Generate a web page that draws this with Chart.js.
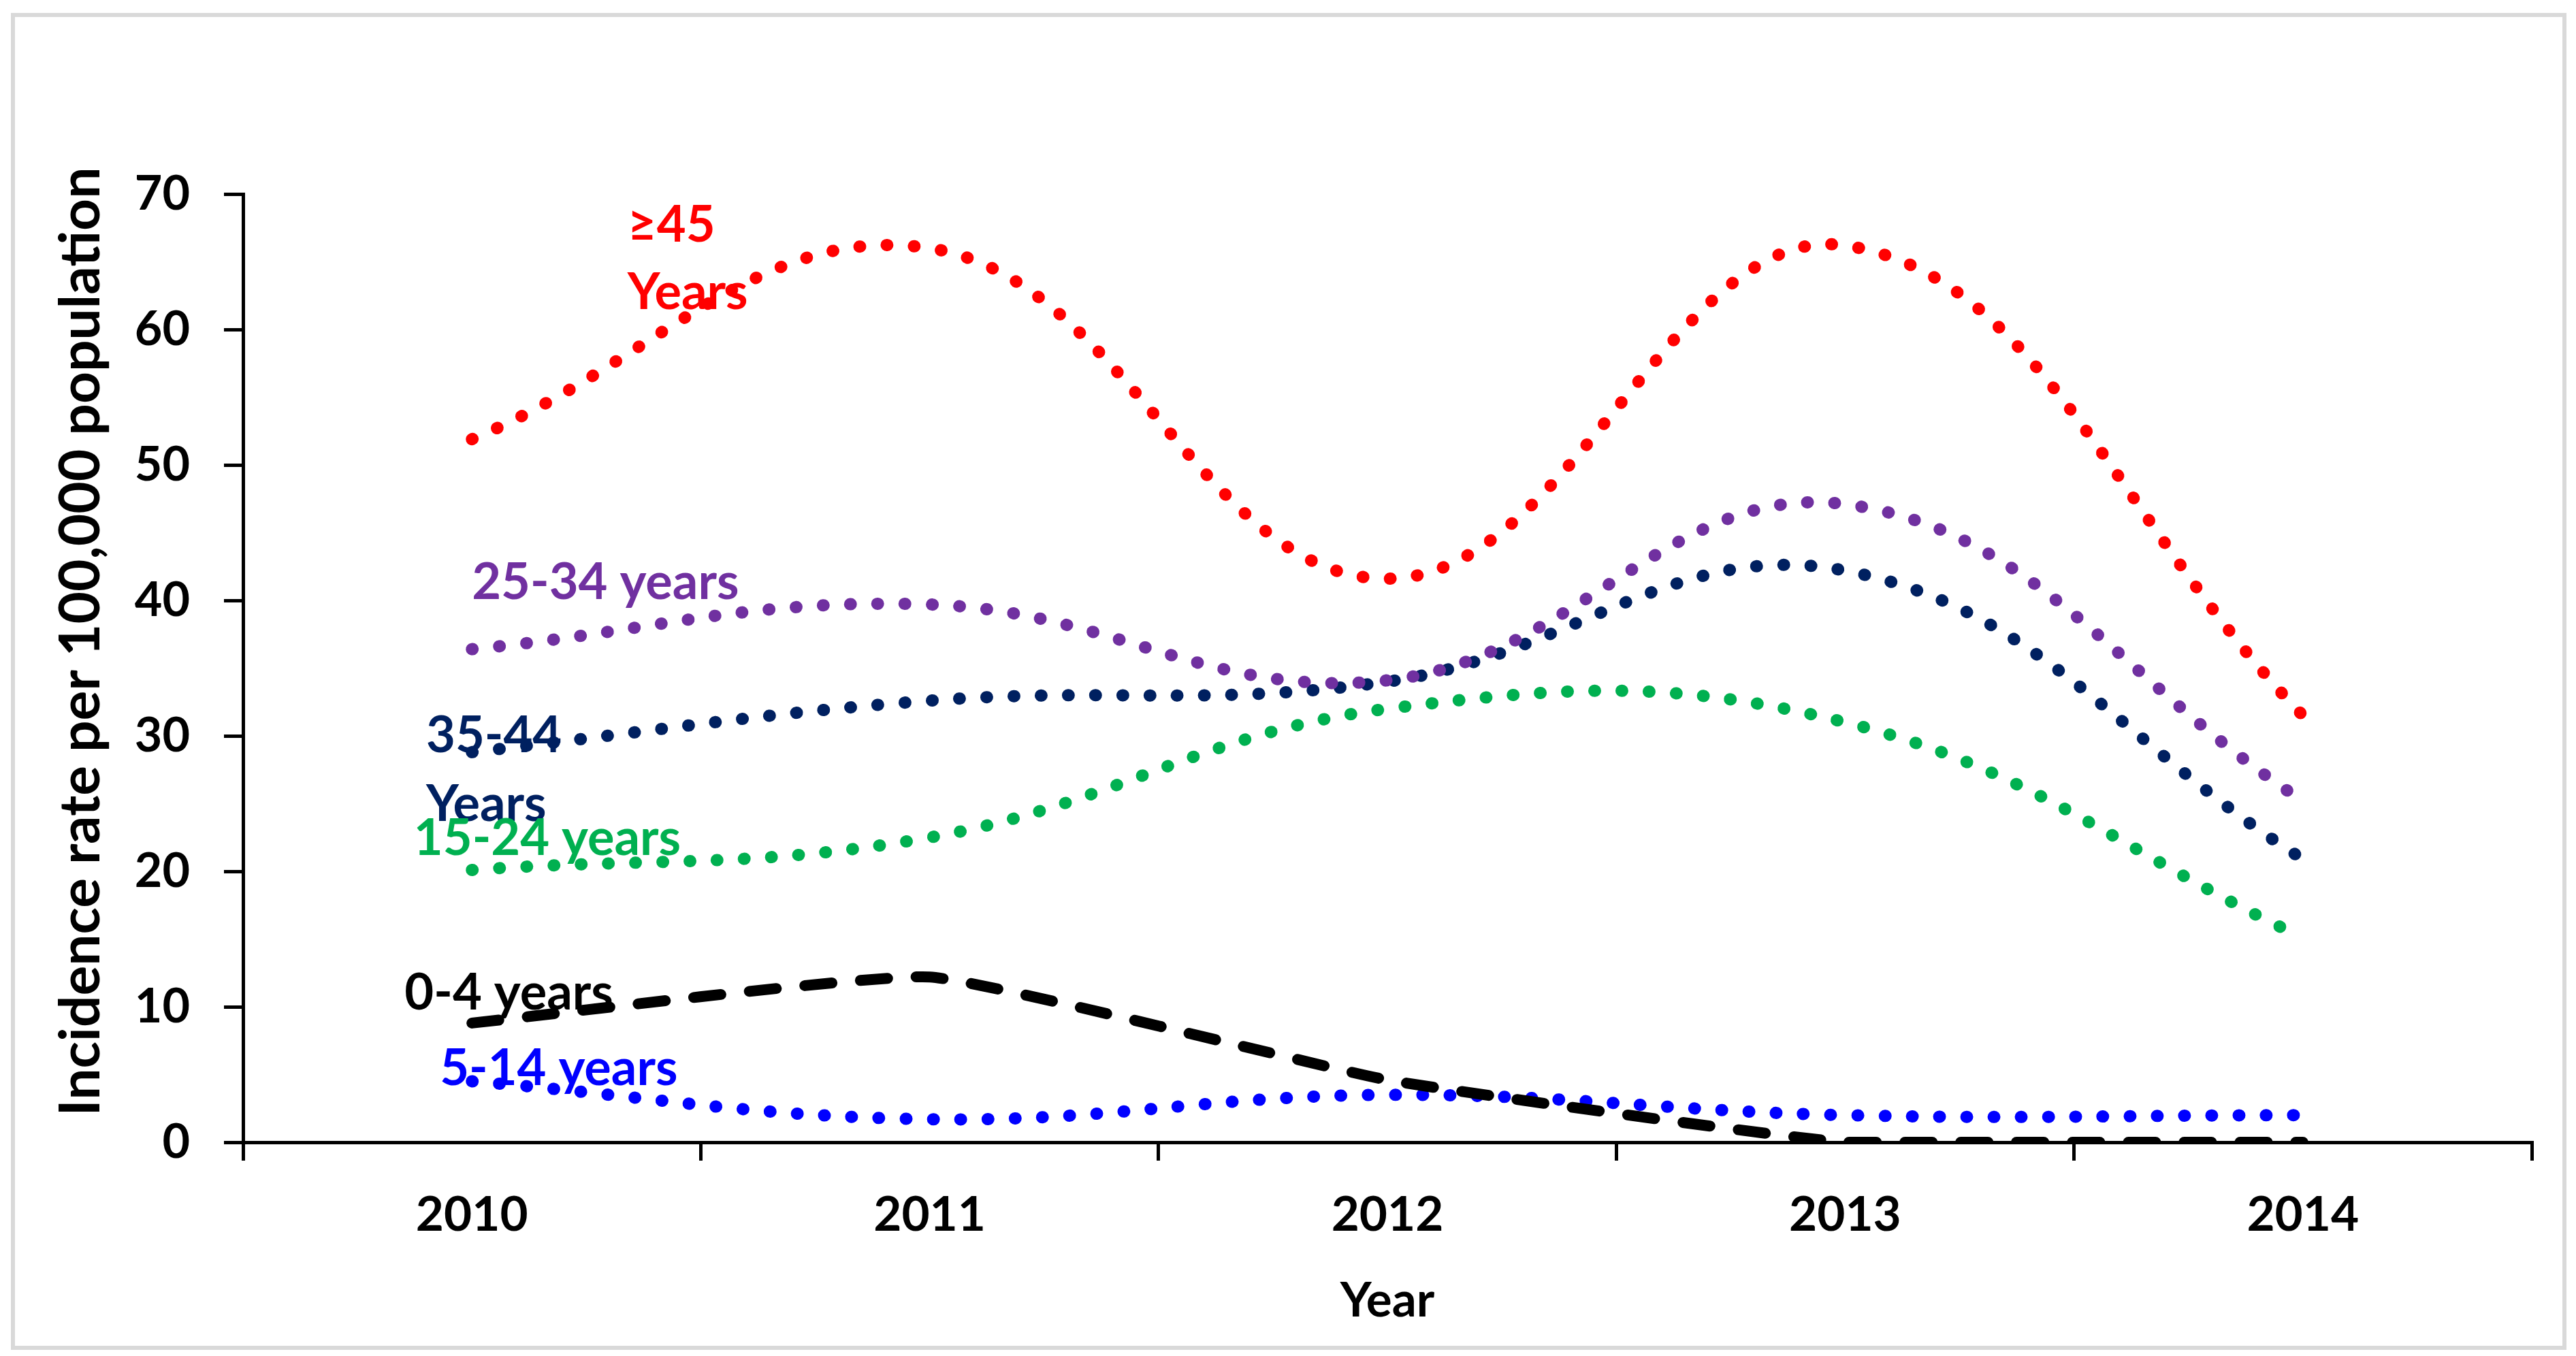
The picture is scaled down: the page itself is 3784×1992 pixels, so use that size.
<!DOCTYPE html>
<html lang="en">
<head>
<meta charset="UTF-8">
<title>Incidence rate by age group</title>
<script src="https://cdn.jsdelivr.net/npm/chart.js@4"></script>
<style>
  html, body { margin: 0; padding: 0; background: #fff; overflow: hidden; }
  canvas { display: block; }
</style>
</head>
<body>
<canvas id="chart" width="3784" height="1992"></canvas>
<script>
// values
const years = ['2010', '2011', '2012', '2013', '2014'];
const yTicks = [0, 10, 20, 30, 40, 50, 60, 70];
const age0to4 = [8.8, 12.2, 4.6, 0, 0];
const age5to14 = [4.5, 1.7, 3.5, 2.0, 2.0];
const age15to24 = [20.1, 22.5, 32.0, 31.0, 15.1];
const age25to34 = [36.4, 39.7, 34.1, 47.1, 25.2];
const age35to44 = [28.8, 32.6, 34.0, 42.2, 20.9];
const age45plus = [51.9, 66.0, 41.6, 66.2, 31.5];

const FONT = 'Lato, "Open Sans", sans-serif';
const Y_TITLE = 'Incidence rate per 100,000 population';

// in-chart series labels, placed in axis units (category index, value)
const seriesLabels = [
  { lines: ['\u226545', 'Years'], color: '#FF0000', x: 0.34, y: [67.7, 62.7] },
  { lines: ['25-34 years'], color: '#7030A0', x: 0.0, y: [41.3] },
  { lines: ['35-44', 'Years'], color: '#002060', x: -0.10, y: [30.0, 24.9] },
  { lines: ['15-24 years'], color: '#00B050', x: -0.127, y: [22.4] },
  { lines: ['0-4 years'], color: '#000000', x: -0.147, y: [11.0] },
  { lines: ['5-14 years'], color: '#0000FF', x: -0.07, y: [5.4] }
];

const frame = {
  id: 'frame',
  beforeDraw(chart) {
    const ctx = chart.ctx;
    ctx.save();
    ctx.fillStyle = '#fff';
    ctx.fillRect(0, 0, chart.width, chart.height);
    ctx.strokeStyle = '#d9d9d9';
    ctx.lineWidth = 6;
    ctx.strokeRect(19, 22, 3748, 1958);
    // y axis title, sits a little above the axis centre like the original
    const ys = chart.scales.y;
    ctx.translate(120, (ys.top + ys.bottom) / 2 - 39);
    ctx.rotate(-Math.PI / 2);
    ctx.font = 'bold 82px ' + FONT;
    ctx.fillStyle = '#000';
    ctx.textAlign = 'center';
    ctx.textBaseline = 'middle';
    ctx.fillText(Y_TITLE, 0, 0);
    ctx.restore();
  }
};

const labelPlugin = {
  id: 'seriesLabels',
  afterDatasetsDraw(chart) {
    const ctx = chart.ctx;
    const xs = chart.scales.x, ys = chart.scales.y;
    const step = xs.getPixelForValue(1) - xs.getPixelForValue(0);
    ctx.save();
    ctx.font = 'bold 74px ' + FONT;
    ctx.textAlign = 'left';
    ctx.textBaseline = 'middle';
    seriesLabels.forEach(l => {
      ctx.fillStyle = l.color;
      const px = xs.getPixelForValue(0) + l.x * step;
      l.lines.forEach((t, i) => ctx.fillText(t, px, ys.getPixelForValue(l.y[i])));
    });
    ctx.restore();
  }
};

function dotted(label, data, color) {
  return {
    label, data,
    borderColor: color,
    backgroundColor: color,
    borderWidth: 18,
    borderCapStyle: 'round',
    borderDash: [1, 39],
    pointRadius: 0,
    tension: 0.4,
    fill: false
  };
}

new Chart(document.getElementById('chart'), {
  type: 'line',
  data: {
    labels: years,
    datasets: [
      dotted('\u226545 Years', age45plus, '#FF0000'),
      dotted('25-34 years', age25to34, '#7030A0'),
      dotted('35-44 Years', age35to44, '#002060'),
      dotted('15-24 years', age15to24, '#00B050'),
      {
        label: '0-4 years', data: age0to4,
        borderColor: '#000', backgroundColor: '#000',
        borderWidth: 16, borderCapStyle: 'round', borderDash: [40, 42],
        pointRadius: 0, tension: 0.12, fill: false
      },
      dotted('5-14 years', age5to14, '#0000FF')
    ]
  },
  options: {
    responsive: false,
    animation: false,
    devicePixelRatio: 1,
    layout: { padding: { top: 285, right: 65, left: 0, bottom: 0 } },
    plugins: { legend: { display: false }, tooltip: { enabled: false } },
    scales: {
      x: {
        offset: true,
        grid: { offset: true, drawOnChartArea: false, drawTicks: true, tickLength: 27, color: '#000', lineWidth: 5 },
        border: { display: true, color: '#000', width: 5 },
        ticks: { color: '#000', font: { family: FONT, size: 71, weight: 'bold' }, padding: 38, maxRotation: 0 },
        title: { display: true, text: 'Year', color: '#000', font: { family: FONT, size: 71, weight: 'bold' }, padding: { top: 0, bottom: 38 } },
        afterFit(s) { s.height = 314; }
      },
      y: {
        min: 0, max: 70,
        afterBuildTicks(s) { s.ticks = yTicks.map(v => ({ value: v })); },
        grid: { drawOnChartArea: false, drawTicks: true, tickLength: 28, color: '#000', lineWidth: 5 },
        border: { display: true, color: '#000', width: 5 },
        ticks: { color: '#000', font: { family: FONT, size: 70, weight: 'bold' }, padding: 50 },
        title: { display: false },
        afterFit(s) { s.width = 357; }
      }
    }
  },
  plugins: [frame, labelPlugin]
});
</script>
</body>
</html>
